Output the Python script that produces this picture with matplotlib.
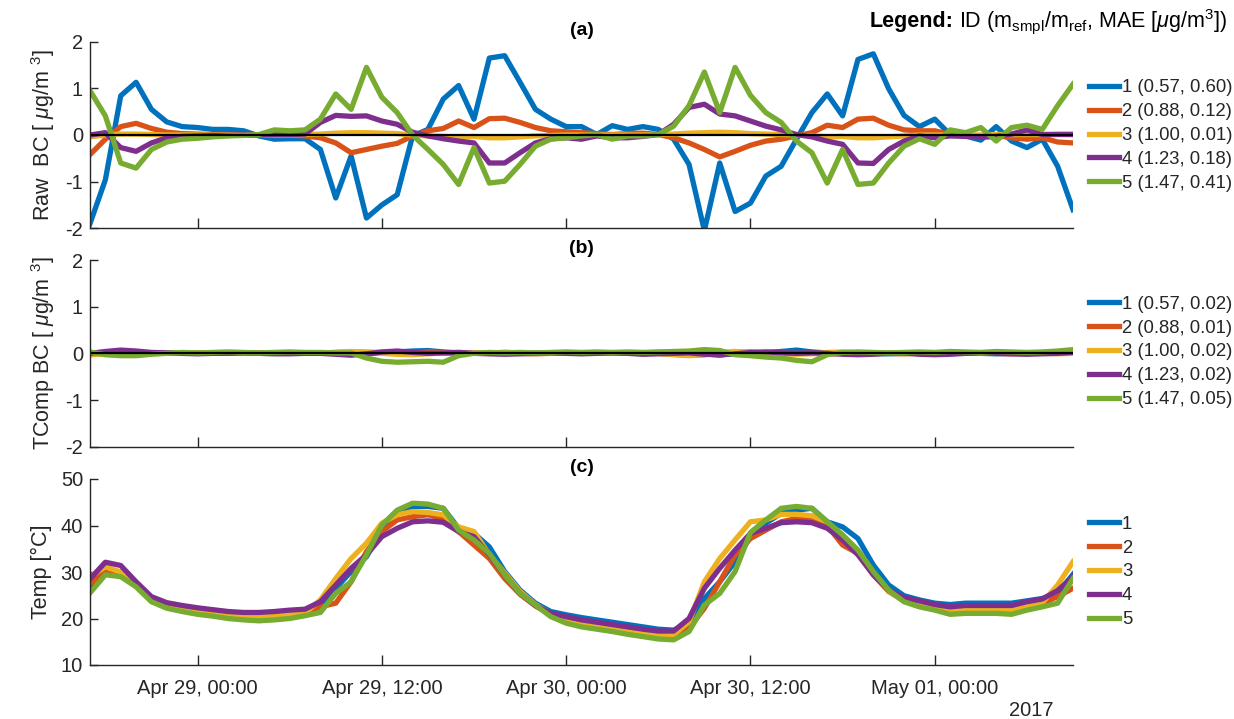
import matplotlib
matplotlib.use("Agg")
import matplotlib.pyplot as plt
import numpy as np
import pandas as pd

plt.rcParams['font.family'] = ['Liberation Sans', 'DejaVu Sans']
plt.rcParams['mathtext.fontset'] = 'custom'
plt.rcParams['mathtext.rm'] = 'Liberation Sans'
plt.rcParams['mathtext.it'] = 'Liberation Sans:italic'
plt.rcParams['mathtext.bf'] = 'Liberation Sans:bold'
plt.rcParams['axes.unicode_minus'] = False

# ---------------- data ----------------
start_time = '2017-04-28 17:00'
n_hours = 65
tick_times = ['2017-04-29 00:00', '2017-04-29 12:00', '2017-04-30 00:00',
              '2017-04-30 12:00', '2017-05-01 00:00']
tick_labels = ['Apr 29, 00:00', 'Apr 29, 12:00', 'Apr 30, 00:00',
               'Apr 30, 12:00', 'May 01, 00:00']
year_label = '2017'

ids = ['1', '2', '3', '4', '5']
slopes = ['0.57', '0.88', '1.00', '1.23', '1.47']
mae_raw = ['0.60', '0.12', '0.01', '0.18', '0.41']
mae_tcomp = ['0.02', '0.01', '0.02', '0.02', '0.05']

raw_1 = [-1.90, -0.96, 0.84, 1.13, 0.55, 0.28, 0.18, 0.16, 0.12, 0.12, 0.09, -0.02, -0.09,
         -0.08, -0.08, -0.31, -1.35, -0.45, -1.78, -1.50, -1.28, -0.02, 0.12, 0.77, 1.06,
         0.34, 1.65, 1.70, 1.13, 0.55, 0.34, 0.18, 0.18, 0.01, 0.20, 0.12, 0.18, 0.12,
         -0.09, -0.63, -2.05, -0.60, -1.64, -1.46, -0.88, -0.67, -0.09, 0.48, 0.88, 0.41,
         1.62, 1.74, 0.99, 0.42, 0.18, 0.34, 0.01, -0.02, -0.11, 0.18, -0.13, -0.27, -0.09,
         -0.67, -1.60]
raw_2 = [-0.42, -0.09, 0.18, 0.25, 0.14, 0.06, 0.03, 0.02, 0.01, 0.01, 0.00, 0.00, 0.00,
         0.00, -0.02, -0.06, -0.17, -0.38, -0.31, -0.24, -0.18, -0.02, 0.09, 0.14, 0.30,
         0.16, 0.35, 0.36, 0.27, 0.16, 0.09, 0.07, 0.05, 0.03, 0.01, 0.03, 0.04, 0.01,
         -0.06, -0.17, -0.31, -0.47, -0.35, -0.22, -0.13, -0.09, -0.02, 0.05, 0.21, 0.16,
         0.34, 0.36, 0.21, 0.11, 0.09, 0.09, 0.01, -0.02, -0.04, -0.01, -0.06, -0.09, -0.06,
         -0.15, -0.17]
raw_3 = [-0.04, 0.00, 0.02, 0.02, 0.01, 0.00, 0.00, 0.00, 0.00, 0.00, 0.00, 0.00, 0.00,
         0.00, 0.01, 0.02, 0.04, 0.05, 0.05, 0.04, 0.03, 0.00, -0.02, -0.03, -0.05,
         -0.03, -0.06, -0.06, -0.04, -0.02, -0.01, 0.00, 0.00, 0.00, 0.00, 0.00, 0.00, 0.01,
         0.02, 0.04, 0.05, 0.06, 0.05, 0.03, 0.02, 0.01, 0.00, -0.02, -0.04, -0.03,
         -0.06, -0.06, -0.04, -0.02, 0.00, 0.00, 0.00, 0.00, 0.00, 0.01, 0.01, 0.01, 0.01,
         0.02, 0.02]
raw_4 = [0.00, 0.05, -0.27, -0.35, -0.17, -0.06, -0.03, -0.02, -0.01, -0.01, 0.00, 0.00, 0.01,
         0.01, 0.02, 0.27, 0.42, 0.40, 0.41, 0.30, 0.23, 0.06, -0.02, -0.08, -0.13,
         -0.17, -0.60, -0.60, -0.38, -0.17, -0.08, -0.06, -0.09, -0.02, -0.06, -0.06, -0.03, 0.01,
         0.23, 0.59, 0.66, 0.45, 0.41, 0.30, 0.19, 0.11, 0.01, -0.04, -0.13, -0.20,
         -0.60, -0.61, -0.31, -0.13, -0.02, -0.06, -0.02, -0.03, -0.05, -0.03, 0.02, 0.11, 0.01,
         0.01, 0.01]
raw_5 = [0.95, 0.41, -0.60, -0.71, -0.31, -0.15, -0.09, -0.07, -0.04, -0.02, -0.01, 0.01, 0.11,
         0.09, 0.11, 0.34, 0.88, 0.55, 1.45, 0.81, 0.48, 0.00, -0.31, -0.63, -1.06,
         -0.27, -1.03, -0.99, -0.63, -0.24, -0.09, -0.06, -0.02, 0.01, -0.09, -0.02, -0.02, 0.01,
         0.19, 0.63, 1.35, 0.48, 1.45, 0.85, 0.48, 0.27, -0.13, -0.38, -1.03, -0.31,
         -1.06, -1.03, -0.60, -0.24, -0.08, -0.20, 0.11, 0.05, 0.16, -0.13, 0.16, 0.21, 0.12,
         0.63, 1.09]

tc_1 = [0.00, 0.01, 0.02, 0.01, 0.00, 0.01, 0.01, 0.00, 0.01, 0.01, 0.00, 0.00, 0.01,
        0.01, 0.00, 0.01, 0.01, 0.00, -0.01, 0.01, 0.03, 0.05, 0.06, 0.03, 0.01,
        0.00, 0.01, 0.02, 0.01, 0.00, 0.01, 0.01, 0.00, 0.01, 0.01, 0.00, 0.01, 0.02,
        0.01, 0.00, -0.01, -0.04, 0.00, 0.01, 0.02, 0.04, 0.07, 0.03, 0.01, 0.00,
        0.01, 0.00, -0.01, 0.00, 0.01, 0.00, 0.00, 0.01, 0.00, -0.01, 0.00, 0.00, 0.01,
        0.02, 0.03]
tc_2 = [-0.03, 0.00, 0.02, 0.01, 0.01, 0.00, 0.00, 0.01, 0.00, 0.00, 0.00, 0.01, 0.00,
        0.00, 0.00, 0.01, 0.02, 0.03, 0.02, 0.02, 0.00, 0.01, 0.03, 0.01, 0.00,
        0.00, 0.01, 0.00, 0.00, -0.01, 0.00, 0.00, 0.01, 0.00, 0.00, 0.00, 0.01, 0.00,
        -0.02, -0.04, -0.03, 0.00, 0.02, 0.03, 0.01, 0.00, 0.00, 0.00, -0.01, 0.00,
        0.00, 0.01, 0.00, -0.01, 0.00, 0.00, 0.01, 0.00, 0.00, 0.00, -0.01, 0.00, 0.00,
        0.01, 0.02]
tc_3 = [-0.03, -0.01, 0.01, 0.02, 0.01, 0.00, 0.00, 0.00, 0.01, 0.00, 0.00, 0.00, 0.01,
        0.00, 0.00, 0.00, 0.02, 0.04, 0.03, 0.00, -0.02, -0.03, -0.01, 0.01, 0.02,
        0.01, 0.00, 0.02, 0.01, 0.00, 0.00, 0.01, 0.00, 0.00, 0.00, 0.01, 0.00, 0.00,
        -0.03, -0.05, -0.03, 0.02, 0.04, 0.02, 0.00, -0.01, -0.02, -0.01, 0.02, 0.03,
        0.01, 0.00, 0.00, 0.01, 0.00, 0.00, 0.00, 0.01, 0.00, 0.00, 0.00, 0.01, 0.00,
        -0.01, 0.00]
tc_4 = [0.00, 0.04, 0.07, 0.05, 0.02, 0.01, 0.00, -0.01, 0.00, 0.00, 0.01, 0.00, -0.01,
        -0.01, 0.00, 0.00, -0.02, -0.04, -0.01, 0.03, 0.05, 0.02, 0.00, 0.01, 0.02,
        0.00, -0.01, -0.02, -0.01, 0.00, 0.01, 0.00, -0.01, 0.00, 0.01, 0.00, -0.02, -0.01,
        0.00, 0.01, -0.02, -0.03, -0.01, 0.02, 0.03, 0.01, 0.00, 0.01, 0.00, -0.02,
        -0.03, -0.02, 0.00, 0.01, -0.02, -0.03, -0.02, 0.00, 0.01, 0.00, -0.01, -0.02, -0.01,
        0.00, 0.02]
tc_5 = [0.03, -0.03, -0.05, -0.05, -0.02, 0.00, 0.02, 0.01, 0.02, 0.03, 0.02, 0.01, 0.02,
        0.03, 0.02, 0.02, 0.01, 0.01, -0.10, -0.17, -0.19, -0.18, -0.17, -0.19, -0.05,
        0.00, 0.02, 0.01, 0.02, 0.01, 0.02, 0.03, 0.02, 0.03, 0.02, 0.03, 0.02, 0.03,
        0.04, 0.05, 0.08, 0.06, -0.03, -0.05, -0.08, -0.10, -0.15, -0.18, -0.03, 0.02,
        0.03, 0.02, 0.01, 0.02, 0.03, 0.02, 0.04, 0.03, 0.02, 0.04, 0.03, 0.02, 0.03,
        0.05, 0.08]

temp_1 = [26.5, 30.5, 30.0, 27.5, 24.3, 23.0, 22.5, 22.0, 21.6, 21.2, 21.0, 20.9, 21.0,
          21.3, 21.6, 23.0, 26.5, 30.1, 33.3, 39.0, 42.6, 44.1, 44.1, 43.7, 39.4,
          38.3, 35.4, 30.1, 26.1, 23.3, 21.5, 20.8, 20.2, 19.7, 19.2, 18.7, 18.2, 17.7,
          17.5, 19.0, 24.3, 27.9, 32.2, 37.6, 40.5, 42.6, 43.3, 43.7, 40.8, 39.7,
          37.2, 31.5, 27.2, 24.9, 24.0, 23.3, 23.0, 23.3, 23.3, 23.3, 23.3, 23.8, 24.3,
          25.4, 29.5]
temp_2 = [27.5, 30.0, 29.5, 27.3, 23.8, 22.5, 21.9, 21.4, 21.0, 20.6, 20.3, 20.2, 20.3,
          20.6, 21.0, 22.5, 23.3, 27.9, 34.4, 38.7, 41.2, 41.9, 42.3, 41.5, 38.7,
          35.8, 32.9, 28.6, 25.2, 22.7, 20.8, 19.7, 19.0, 18.4, 17.9, 17.4, 16.9, 16.5,
          16.4, 17.9, 22.2, 27.9, 33.7, 37.2, 39.0, 40.8, 41.5, 41.6, 40.0, 35.8,
          34.0, 29.4, 25.8, 23.8, 22.9, 22.3, 21.8, 22.0, 22.0, 22.0, 21.8, 22.3, 23.3,
          24.7, 26.5]
temp_3 = [29.0, 31.1, 30.0, 27.3, 24.0, 22.7, 22.1, 21.6, 21.2, 20.8, 20.5, 20.4, 20.5,
          20.8, 21.2, 24.0, 28.6, 32.9, 36.2, 40.5, 42.3, 43.0, 42.8, 42.3, 39.7,
          38.7, 33.7, 29.8, 25.8, 23.0, 21.0, 19.8, 19.0, 18.5, 18.0, 17.5, 17.0, 16.6,
          16.5, 19.3, 27.9, 32.9, 36.9, 40.8, 41.2, 42.4, 42.4, 42.1, 40.8, 37.6,
          34.4, 29.8, 25.9, 23.9, 22.8, 22.2, 21.6, 21.8, 21.8, 21.8, 21.8, 22.5, 23.4,
          27.2, 32.2]
temp_4 = [28.5, 32.1, 31.4, 27.9, 24.7, 23.4, 22.8, 22.3, 21.9, 21.5, 21.3, 21.3, 21.5,
          21.8, 22.0, 23.6, 27.2, 30.8, 33.7, 37.6, 39.4, 40.8, 41.0, 40.7, 38.7,
          37.6, 33.7, 29.4, 25.4, 22.8, 21.1, 20.4, 19.7, 19.2, 18.7, 18.2, 17.7, 17.3,
          17.3, 20.0, 26.5, 30.8, 34.7, 38.3, 39.4, 40.6, 40.8, 40.6, 39.4, 36.9,
          33.7, 29.4, 26.1, 24.5, 23.8, 23.0, 22.5, 22.8, 22.8, 22.8, 22.8, 23.6, 24.2,
          26.0, 29.0]
temp_5 = [25.5, 29.4, 29.0, 26.8, 23.6, 22.2, 21.5, 20.9, 20.5, 20.0, 19.7, 19.5, 19.7,
          20.0, 20.6, 21.3, 25.4, 27.9, 33.7, 40.1, 43.3, 44.8, 44.6, 43.7, 39.0,
          36.9, 34.0, 29.4, 25.4, 22.9, 20.4, 19.0, 18.2, 17.7, 17.2, 16.6, 16.1, 15.6,
          15.4, 17.2, 22.9, 25.4, 30.1, 38.5, 41.2, 43.7, 44.1, 43.7, 40.8, 38.0,
          34.7, 30.1, 26.1, 23.6, 22.5, 21.8, 20.9, 21.1, 21.1, 21.1, 20.9, 21.8, 22.5,
          23.3, 28.6]

# ---------------- style ----------------
colors = ['#0072BD', '#D95319', '#EDB120', '#7E2F8E', '#77AC30']
axc = '#262626'
W, H = 1234, 719
LW = 3.8
TICK_FS = 14.5
LAB_FS = 15.5

times = pd.date_range(start_time, periods=n_hours, freq='h')
t0, t1 = times[0], times[-1]

fig = plt.figure(figsize=(W / 100, H / 100), dpi=100)

def px_axes(left, top, right, bottom):
    return fig.add_axes([left / W, 1 - bottom / H, (right - left) / W, (bottom - top) / H])

ax_a = px_axes(90, 41.7, 1073, 228.3)
ax_b = px_axes(90, 260, 1073, 446.7)
ax_c = px_axes(90, 479, 1073, 665)

raw = [raw_1, raw_2, raw_3, raw_4, raw_5]
tc = [tc_1, tc_2, tc_3, tc_4, tc_5]
temp = [temp_1, temp_2, temp_3, temp_4, temp_5]

def style(ax, ylim, yticks, show_x):
    ax.set_xlim(t0, t1)
    ax.set_ylim(*ylim)
    ax.set_yticks(yticks)
    ax.set_yticklabels([str(v) for v in yticks])
    ax.set_xticks(pd.to_datetime(tick_times))
    if show_x:
        ax.set_xticklabels(tick_labels)
    else:
        ax.set_xticklabels([])
    for s in ['top', 'right']:
        ax.spines[s].set_visible(False)
    for s in ['left', 'bottom']:
        ax.spines[s].set_color(axc)
        ax.spines[s].set_linewidth(1.0)
    ax.tick_params(axis='both', direction='in', colors=axc, labelcolor=axc,
                   labelsize=TICK_FS, width=1.0)
    ax.tick_params(axis='y', length=6, pad=5)
    ax.tick_params(axis='x', length=7, pad=10)

def add_legend(ax, labels, cy):
    handles = ax.get_lines()[:5]
    fig.legend(handles, labels, loc='center left',
               bbox_to_anchor=(1089 / W, 1 - cy / H), bbox_transform=fig.transFigure,
               frameon=False, fontsize=13.3, handlelength=1.65, handletextpad=0.14,
               labelspacing=0.37, borderpad=0, borderaxespad=0, labelcolor=axc)

for k in range(5):
    ax_a.plot(times, raw[k], color=colors[k], lw=LW)
ax_a.axhline(0, color='k', lw=1.6)
style(ax_a, (-2, 2), [-2, -1, 0, 1, 2], False)
ax_a.set_ylabel(r'Raw  BC [ $\mathit{\mu}$g/m $^3$]', fontsize=LAB_FS, color=axc, labelpad=6)
ax_a.set_title('(a)', fontsize=14, fontweight='bold', color='k', pad=5)
add_legend(ax_a, [f'{i} ({s}, {m})' for i, s, m in zip(ids, slopes, mae_raw)], 135.5)

for k in range(5):
    ax_b.plot(times, tc[k], color=colors[k], lw=LW)
ax_b.axhline(0, color='k', lw=1.6)
style(ax_b, (-2, 2), [-2, -1, 0, 1, 2], False)
ax_b.set_ylabel(r'TComp BC [ $\mathit{\mu}$g/m $^3$]', fontsize=LAB_FS, color=axc, labelpad=6)
ax_b.set_title('(b)', fontsize=14, fontweight='bold', color='k', pad=5)
add_legend(ax_b, [f'{i} ({s}, {m})' for i, s, m in zip(ids, slopes, mae_tcomp)], 352)

for k in range(5):
    ax_c.plot(times, temp[k], color=colors[k], lw=LW)
style(ax_c, (10, 50), [10, 20, 30, 40, 50], True)
ax_c.set_ylabel('Temp [°C]', fontsize=LAB_FS, color=axc, labelpad=6)
ax_c.set_title('(c)', fontsize=14, fontweight='bold', color='k', pad=5)
add_legend(ax_c, ids, 572)

fig.text(1031 / W, 1 - 711 / H, year_label, ha='center', va='center', fontsize=TICK_FS, color=axc)

# header legend text
HDR_FS = 15.5
t_bold = fig.text(870 / W, 1 - 22 / H, 'Legend:', fontweight='bold', fontsize=HDR_FS,
                  ha='left', va='center', color='k')
fig.canvas.draw()
bb = t_bold.get_window_extent(fig.canvas.get_renderer())
fig.text((bb.x1 + 5) / W, 1 - 22 / H,
         r'ID (m$_{\rm smpl}$/m$_{\rm ref}$, MAE [$\mathit{\mu}$g/m$^3$])',
         fontsize=HDR_FS, ha='left', va='center', color='k')

fig.savefig('out.png', dpi=100)
